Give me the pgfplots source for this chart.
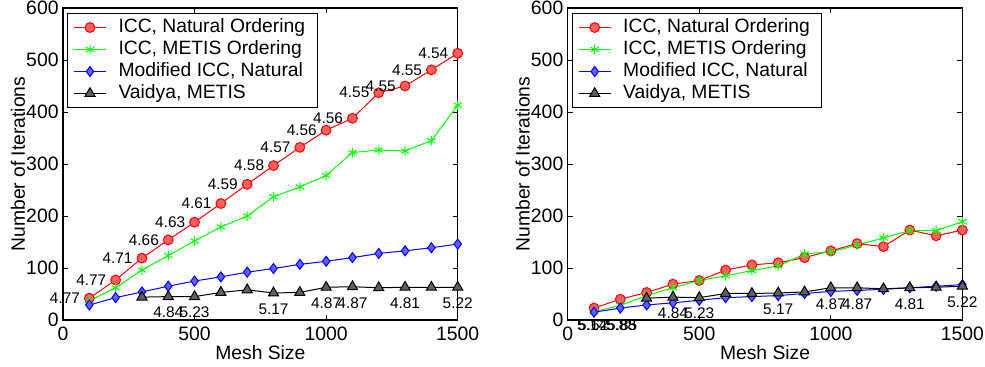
\documentclass[border=0pt]{standalone}
\usepackage{fontspec}
\setmainfont{Liberation Sans}
\usepackage{pgfplots}
\pgfplotsset{compat=1.18}
\definecolor{mred}{RGB}{255,0,0}
\definecolor{mredf}{RGB}{255,96,96}
\definecolor{mgreen}{RGB}{0,255,0}
\definecolor{mblue}{RGB}{0,0,255}
\definecolor{mbluef}{RGB}{96,96,255}
\definecolor{mgrayf}{RGB}{96,96,96}
\pgfplotsset{
  myaxis/.style={
    scale only axis, width=197.35pt, height=156pt,
    anchor=south west,
    xmin=0, xmax=1500, ymin=0, ymax=600,
    xtick={0,500,1000,1500}, ytick={0,100,...,600},
    tick pos=both, tick align=inside, major tick length=2.5pt,
    every tick/.style={black, line width=0.5pt},
    axis line style={line width=0.6pt},
    /pgf/number format/assume math mode=true,
    /pgf/number format/1000 sep={},
    tick label style={font=\fontsize{9.7}{11}\selectfont},
    yticklabel style={inner sep=0pt, xshift=-2pt},
    xticklabel style={inner sep=0pt, yshift=-3.5pt},
    xlabel={Mesh Size}, ylabel={Number of Iterations},
    label style={font=\fontsize{9.65}{11}\selectfont, inner sep=0pt},
    xlabel style={at={(axis description cs:0.5,-0.128)}, anchor=base},
    ylabel style={at={(axis description cs:-0.0963,0.5)}, anchor=base},
    clip=false,
    legend image code/.code={\draw[mark repeat=2,mark phase=2,#1] plot coordinates {(0pt,0pt)(8pt,0pt)(16pt,0pt)};},
    legend style={at={(axis description cs:0,1)}, anchor=north west, xshift=2pt, yshift=-2.5pt,
      draw=black, line width=0.5pt, fill=white, font=\fontsize{9.65}{11}\selectfont,
      inner xsep=3pt, inner ysep=1.5pt, row sep=0pt, column sep=3pt,
      nodes={inner xsep=3pt, inner ysep=0pt, text height=7.9pt, text depth=3.1pt},
      cells={anchor=west}},
  },
  redp/.style={mred, line width=0.5pt, mark=*, mark size=2.45pt, mark options={fill=mredf, draw=mred, line width=0.5pt}},
  greenp/.style={mgreen, line width=0.5pt, mark=asterisk, mark size=2.4pt, mark options={draw=mgreen, line width=0.5pt}},
  bluep/.style={mblue, line width=0.5pt, mark=diamond*, mark size=2.5pt, mark options={fill=mbluef, draw=mblue, line width=0.5pt}},
  blackp/.style={black, line width=0.5pt, mark=triangle*, mark size=2.9pt, mark options={fill=mgrayf, draw=black, line width=0.5pt}},
  redlab/.style={draw=none, mark=none, forget plot, nodes near coords, point meta=explicit symbolic,
    nodes near coords style={font=\fontsize{7.7}{9}\selectfont, anchor=east, inner sep=0pt, xshift=-4.5pt, text=black}},
  blacklab/.style={draw=none, mark=none, forget plot, nodes near coords, point meta=explicit symbolic,
    nodes near coords style={font=\fontsize{7.7}{9}\selectfont, anchor=center, inner sep=0pt, yshift=-8pt, text=black}},
  straylab/.style={draw=none, mark=none, forget plot, nodes near coords, point meta=explicit symbolic,
    nodes near coords style={font=\fontsize{7.7}{9}\selectfont, anchor=center, inner sep=0pt, text=black}},
}
\begin{document}
\begin{tikzpicture}
% left panel
\begin{axis}[myaxis, at={(31.5pt,-160pt)}]
\addplot[redp] coordinates {(100,42)(200,77)(300,119)(400,154)(500,188)(600,224)(700,261)(800,297)(900,332)(1000,365)(1100,388)(1200,437)(1300,450)(1400,481)(1500,513)};
\addlegendentry{ICC, Natural Ordering}
\addplot[greenp] coordinates {(100,37)(200,62)(300,96)(400,124)(500,152)(600,179)(700,200)(800,237)(900,256)(1000,278)(1100,322)(1200,327)(1300,325)(1400,345)(1500,413)};
\addlegendentry{ICC, METIS Ordering}
\addplot[bluep] coordinates {(100,29)(200,43)(300,54)(400,65)(500,75)(600,83)(700,92)(800,99)(900,107)(1000,113)(1100,120)(1200,128)(1300,133)(1400,139)(1500,146)};
\addlegendentry{Modified ICC, Natural}
\addplot[blackp] coordinates {(300,44)(400,45)(500,45)(600,53)(700,58)(800,52)(900,53)(1000,63)(1100,64)(1200,62)(1300,63)(1400,63)(1500,63)};
\addlegendentry{Vaidya, METIS}
\addplot[redlab] coordinates {(100,42)[4.77] (200,77)[4.77] (300,119)[4.71] (400,154)[4.66] (500,188)[4.63] (600,224)[4.61] (700,261)[4.59] (800,297)[4.58] (900,332)[4.57] (1000,365)[4.56] (1100,388)[4.56] (1200,437)[4.55] (1300,450)[4.55] (1400,481)[4.55] (1500,513)[4.54]};
\addplot[blacklab] coordinates {(400,45)[4.84] (500,45)[5.23] (800,52)[5.17] (1000,63)[4.87] (1100,64)[4.87] (1300,63)[4.81] (1500,63)[5.22]};
\end{axis}
% right panel
\begin{axis}[myaxis, at={(283.85pt,-160pt)}]
\addplot[redp] coordinates {(100,23)(200,40)(300,53)(400,69)(500,76)(600,96)(700,106)(800,110)(900,120)(1000,133)(1100,147)(1200,141)(1300,173)(1400,162)(1500,173)};
\addlegendentry{ICC, Natural Ordering}
\addplot[greenp] coordinates {(100,16)(200,28)(300,47)(400,62)(500,76)(600,85)(700,95)(800,104)(900,127)(1000,131)(1100,144)(1200,158)(1300,172)(1400,172)(1500,189)};
\addlegendentry{ICC, METIS Ordering}
\addplot[bluep] coordinates {(100,15)(200,23)(300,29)(400,33)(500,38)(600,43)(700,45)(800,47)(900,51)(1000,55)(1100,57)(1200,59)(1300,62)(1400,65)(1500,68)};
\addlegendentry{Modified ICC, Natural}
\addplot[blackp] coordinates {(300,42)(400,44)(500,43)(600,51)(700,51)(800,52)(900,54)(1000,62)(1100,62)(1200,60)(1300,62)(1400,63)(1500,65)};
\addlegendentry{Vaidya, METIS}
\addplot[blacklab] coordinates {(400,44)[4.84] (500,43)[5.23] (800,52)[5.17] (1000,62)[4.87] (1100,62)[4.87] (1300,62)[4.81] (1500,65)[5.22]};
\addplot[straylab] coordinates {(93,-10.6)[5.14] (97,-10.6)[5.62] (203,-10.6)[5.88] (207,-10.6)[5.85]};
\end{axis}
\pgfresetboundingbox
\path (0pt,0pt) rectangle (492.5pt,-183pt);
\end{tikzpicture}
\end{document}
